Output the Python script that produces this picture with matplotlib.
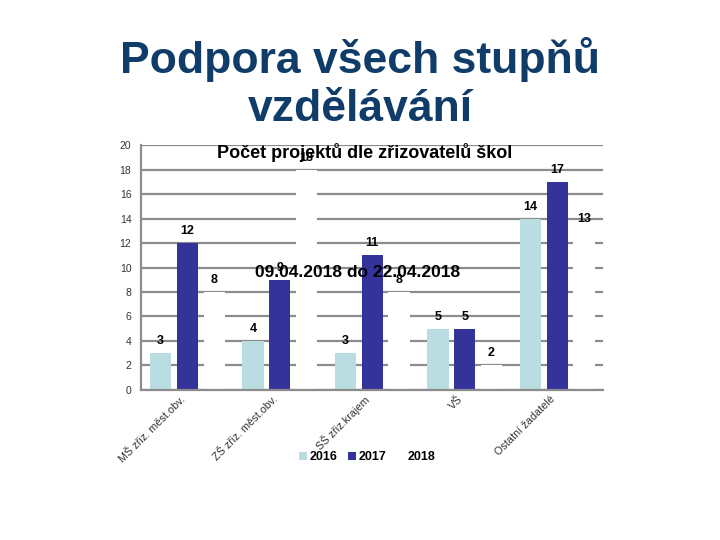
import matplotlib
matplotlib.use("Agg")
import matplotlib.pyplot as plt
import numpy as np
from matplotlib.patches import Patch

plt.rcParams['font.family'] = ['Liberation Sans', 'DejaVu Sans']

categories = ["MŠ zřiz. měst.obv.", "ZŠ zřiz. měst.obv.", "SŠ zřiz.krajem", "VŠ", "Ostatní žadatelé"]
years = ["2016", "2017", "2018"]
v2016 = [3, 4, 3, 5, 14]
v2017 = [12, 9, 11, 5, 17]
v2018 = [8, 18, 8, 2, 13]
yticks = [0, 2, 4, 6, 8, 10, 12, 14, 16, 18, 20]

colors = ["#B9DDE1", "#333399", "#FFFFFF"]

fig = plt.figure(figsize=(7.2, 5.4), dpi=100)
ax = fig.add_axes([0.196, 0.278, 0.642, 0.453])

x = np.arange(len(categories)) + 0.5
step = 0.29
width = 0.23
series = [v2016, v2017, v2018]
for i, (vals, c) in enumerate(zip(series, colors)):
    pos = x + (i - 1) * step
    ax.bar(pos, vals, width=width, color=c, zorder=3, linewidth=0)
    for p, v in zip(pos, vals):
        ax.text(p, v + 0.5, str(v), ha='center', va='bottom', fontsize=9,
                fontweight='bold', color='black', zorder=4)

ax.set_xlim(0, len(categories))
ax.set_ylim(0, 20)
ax.set_yticks(yticks)
ax.set_yticklabels([str(t) for t in yticks], fontsize=7.5, color='#333333')
ax.yaxis.grid(True, color='#8C8C8C', linewidth=1.6, zorder=1)
ax.set_axisbelow(True)
ax.tick_params(axis='y', length=0, pad=7)
ax.tick_params(axis='x', length=0, pad=3)
ax.set_xticks(x)
ax.set_xticklabels(categories, rotation=45, ha='right', va='top', fontsize=7.8, color='#333333')
for s in ['top', 'right']:
    ax.spines[s].set_visible(False)
for s in ['left', 'bottom']:
    ax.spines[s].set_color('#8C8C8C')
    ax.spines[s].set_linewidth(1.6)
    ax.spines[s].set_zorder(5)

fig.text(0.5, 0.845, "Podpora všech stupňů\nvzdělávání", ha='center', va='center',
         fontsize=32, fontweight='bold', color='#0F3C68', linespacing=1.2)
fig.text(0.507, 0.718, "Počet projektů dle zřizovatelů škol", ha='center', va='center',
         fontsize=13, fontweight='bold', color='black', zorder=10)
fig.text(0.497, 0.496, "09.04.2018 do 22.04.2018", ha='center', va='center',
         fontsize=12.5, fontweight='bold', color='black', zorder=10)

handles = [Patch(facecolor=c, edgecolor='none') for c in colors]
leg = fig.legend(handles, years, loc='center', bbox_to_anchor=(0.51, 0.153), ncol=3,
                 frameon=False, handlelength=0.6, handleheight=0.6, handletextpad=0.2,
                 columnspacing=0.9, prop={'weight': 'bold', 'size': 9})

fig.savefig("out.png", dpi=100)
